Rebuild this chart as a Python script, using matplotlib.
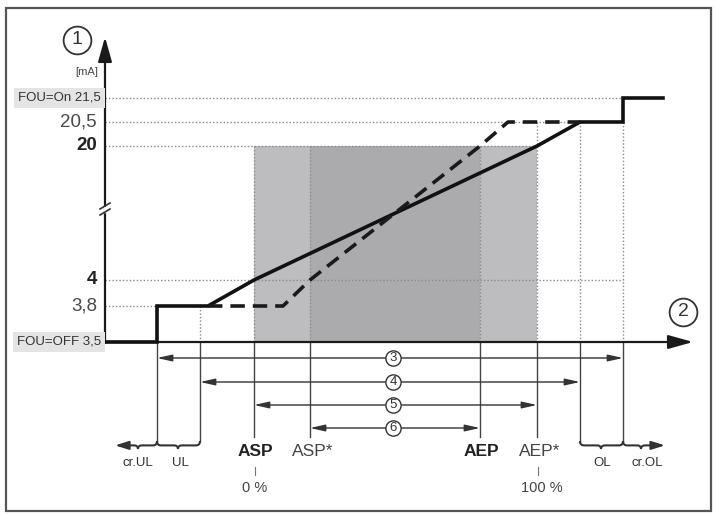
import numpy as np
import matplotlib
matplotlib.use("Agg")
import matplotlib.pyplot as plt
from matplotlib.path import Path
from matplotlib.patches import PathPatch, Rectangle

plt.rcParams['font.family'] = ['Liberation Sans Narrow', 'Liberation Sans', 'DejaVu Sans']

# ---------------- data ----------------
# current levels [mA] shown on the y axis
Y_LEVELS = [3.5, 3.8, 4.0, 20.0, 20.5, 21.5]
Y_LABELS = ["FOU=OFF 3,5", "3,8", "4", "20", "20,5", "FOU=On 21,5"]
Y_BOLD = [False, False, True, True, False, False]

# positions on the measured-value axis
X_CRUL, X_UL, X_ASP, X_ASPS, X_AEP, X_AEPS, X_OL, X_CROL = 157, 200, 254, 310, 480, 537, 580, 623
X_LABELS_TOP = ["ASP", "ASP*", "AEP", "AEP*"]
X_LABELS_TOP_POS = [X_ASP, X_ASPS, X_AEP, X_AEPS]
X_LABELS_TOP_BOLD = [True, False, True, False]
PCT_LABELS = ["0 %", "100 %"]

# characteristic curves
SOLID_X = [105, X_CRUL, X_CRUL, 208, X_ASP, X_AEPS, X_OL, X_CROL, X_CROL, 663]
SOLID_Y = [3.5, 3.5, 3.8, 3.8, 4.0, 20.0, 20.5, 20.5, 21.5, 21.5]
DASHED_X = [208, 283, X_ASPS, X_AEP, 508, X_OL]
DASHED_Y = [3.8, 3.8, 4.0, 20.0, 20.5, 20.5]

# ranges (numbered arrows)
RANGES = [("3", X_CRUL, X_CROL), ("4", X_UL, X_OL), ("5", X_ASP, X_AEPS), ("6", X_ASPS, X_AEP)]

# ---------------- scale (broken y axis) ----------------
W, H = 715, 515
_PX = np.array([342, 306, 280, 146, 122, 98], float)
_L = np.array(Y_LEVELS, float)
_F = 1 - _PX / H


def fwd(v):
    v = np.asarray(v, float)
    out = np.interp(v, _L, _F)
    s0 = (_F[1] - _F[0]) / (_L[1] - _L[0])
    s1 = (_F[-1] - _F[-2]) / (_L[-1] - _L[-2])
    out = np.where(v < _L[0], _F[0] + (v - _L[0]) * s0, out)
    out = np.where(v > _L[-1], _F[-1] + (v - _L[-1]) * s1, out)
    return out


def inv(f):
    f = np.asarray(f, float)
    out = np.interp(f, _F, _L)
    s0 = (_L[1] - _L[0]) / (_F[1] - _F[0])
    s1 = (_L[-1] - _L[-2]) / (_F[-1] - _F[-2])
    out = np.where(f < _F[0], _L[0] + (f - _F[0]) * s0, out)
    out = np.where(f > _F[-1], _L[-1] + (f - _F[-1]) * s1, out)
    return out


def fr(px):
    return 1 - px / H


fig = plt.figure(figsize=(W / 100, H / 100), dpi=100)
ax = fig.add_axes([0, 0, 1, 1])
ax.set_yscale('function', functions=(fwd, inv))
ax.set_xlim(0, W)
ax.set_ylim(float(inv(0.0)), float(inv(1.0)))
ax.axis('off')
T = ax.get_xaxis_transform()

DOT = dict(color='#8a8a8a', lw=1.0, linestyle=(0, (1, 1.5)))
THIN = dict(color='#444444', lw=1.0)

# frame
ax.add_patch(Rectangle((6 / W, fr(511)), 705 / W, (511 - 8) / H, transform=ax.transAxes,
                       fill=False, ec='#555555', lw=1.6, zorder=10))

# shaded areas
ax.fill_between([X_ASP, X_AEPS], 3.5, 20, color='#bdbdbf', lw=0, zorder=1)
ax.fill_between([X_ASPS, X_AEP], 3.5, 20, color='#ababad', lw=0, zorder=1)

# horizontal dotted guide lines
ax.plot([105, X_CROL], [21.5, 21.5], **DOT, zorder=2)
ax.plot([105, X_OL], [20.5, 20.5], **DOT, zorder=2)
ax.plot([105, X_AEPS], [20, 20], **DOT, zorder=2)
ax.plot([105, X_CROL], [4, 4], **DOT, zorder=2)
ax.plot([105, X_CRUL], [3.8, 3.8], **DOT, zorder=2)

# vertical dotted guide lines (above axis)
ax.plot([X_UL, X_UL], [3.8, 3.5], **DOT, zorder=2)
for xv in [X_ASP, X_ASPS, X_AEP]:
    ax.plot([xv, xv], [20, 3.5], **DOT, zorder=2)
for xv in [X_AEPS, X_OL, X_CROL]:
    ax.plot([xv, xv], [20.5, 3.5], **DOT, zorder=2)

# vertical thin lines below the axis
for xv, bot in [(X_CRUL, 441), (X_UL, 441), (X_ASP, 437), (X_ASPS, 437),
                (X_AEP, 437), (X_AEPS, 437), (X_OL, 441), (X_CROL, 441)]:
    ax.plot([xv, xv], [fr(342), fr(bot)], transform=T, **THIN, zorder=2)

# axes arrows
ax.annotate('', xy=(693, fr(342)), xytext=(105, fr(342)), xycoords=T, textcoords=T,
            arrowprops=dict(arrowstyle='-|>,head_length=1.5,head_width=0.42', color='#1a1a1a',
                            lw=1.6, shrinkA=0, shrinkB=0), zorder=3)
ax.annotate('', xy=(105, fr(37)), xytext=(105, fr(343)), xycoords=T, textcoords=T,
            arrowprops=dict(arrowstyle='-|>,head_length=1.5,head_width=0.42', color='#1a1a1a',
                            lw=1.6, shrinkA=0, shrinkB=0), zorder=3)
# axis break marks
for dy in (-3, 3):
    ax.plot([100, 110], [fr(209 + dy + 3), fr(209 + dy - 3)], transform=T, color='#333333', lw=1.2, zorder=4)
ax.plot([105, 105], [fr(207.5), fr(210.5)], transform=T, color='white', lw=2.5, zorder=3.5)

# curves
ax.plot(SOLID_X, SOLID_Y, color='#111111', lw=2.6, solid_joinstyle='miter', zorder=5)
ax.plot(DASHED_X, DASHED_Y, color='#1a1a1a', lw=2.6, dashes=(4, 2.2), zorder=5)

# numbered range arrows
ROW_PX = [358, 382, 405, 428]
for (num, x0, x1), py in zip(RANGES, ROW_PX):
    ax.annotate('', xy=(x1, fr(py)), xytext=(x0, fr(py)), xycoords=T, textcoords=T,
                arrowprops=dict(arrowstyle='<|-|>,head_length=0.9,head_width=0.2', color='#333333',
                                lw=1.0, shrinkA=0, shrinkB=0), zorder=3)
    ax.plot([393], [fr(py)], transform=T, marker='o', ms=11, mfc='white', mec='#333333', mew=1.0, zorder=6)
    ax.text(393, fr(py), num, transform=T, ha='center', va='center', fontsize=9.5, color='#333333', zorder=7)

# big circled labels
for (cx, cy, num) in [(77, 40, "1"), (683, 312, "2")]:
    ax.plot([cx], [fr(cy)], transform=T, marker='o', ms=20, mfc='white', mec='#333333', mew=1.3, zorder=6)
    ax.text(cx, fr(cy), num, transform=T, ha='center', va='center', fontsize=14, color='#333333', zorder=7)


# braces
def brace(x0, x1, ytop, depth=8, left_arrow=False, right_arrow=False, tip=None):
    yt, ym, yb = fr(ytop), fr(ytop + depth * 0.55), fr(ytop + depth)
    d = 4
    xm = (x0 + x1) / 2 if tip is None else tip
    verts, codes = [], []
    if left_arrow:
        verts += [(x0, ym)]; codes += [Path.MOVETO]
    else:
        verts += [(x0, yt), (x0, ym), (x0 + d, ym)]; codes += [Path.MOVETO, Path.CURVE3, Path.CURVE3]
    verts += [(xm - d, ym), (xm, ym), (xm, yb), (xm, ym), (xm + d, ym)]
    codes += [Path.LINETO, Path.CURVE3, Path.CURVE3, Path.CURVE3, Path.CURVE3]
    if right_arrow:
        verts += [(x1, ym)]; codes += [Path.LINETO]
    else:
        verts += [(x1 - d, ym), (x1, ym), (x1, yt)]; codes += [Path.LINETO, Path.CURVE3, Path.CURVE3]
    ax.add_patch(PathPatch(Path(verts, codes), transform=T, fill=False, ec='#333333', lw=1.5, zorder=4))
    if left_arrow:
        ax.annotate('', xy=(x0 - 6, ym), xytext=(x0 + 2, ym), xycoords=T, textcoords=T,
                    arrowprops=dict(arrowstyle='-|>,head_length=0.8,head_width=0.25', color='#333333',
                                    lw=1.5, shrinkA=0, shrinkB=0))
    if right_arrow:
        ax.annotate('', xy=(x1 + 6, ym), xytext=(x1 - 2, ym), xycoords=T, textcoords=T,
                    arrowprops=dict(arrowstyle='-|>,head_length=0.8,head_width=0.25', color='#333333',
                                    lw=1.5, shrinkA=0, shrinkB=0))


brace(X_CRUL, X_UL, 441, tip=178)
brace(121, X_CRUL, 441, left_arrow=True, tip=138)
brace(X_OL, X_CROL, 441, tip=601)
brace(X_CROL, 659, 441, right_arrow=True, tip=641)

# small range labels
for txt, xv in [("cr.UL", 138), ("UL", 180), ("OL", 602), ("cr.OL", 647)]:
    ax.text(xv, fr(463), txt, transform=T, ha='center', va='center', fontsize=9.5, color='#333333')

# ASP / AEP labels
for txt, xv, b in zip(X_LABELS_TOP, X_LABELS_TOP_POS, X_LABELS_TOP_BOLD):
    ax.text(xv + (3 if '*' in txt else 1), fr(452), txt, transform=T, ha='center', va='center', fontsize=12.5,
            fontweight='bold' if b else 'normal', color='#222222' if b else '#444444')
for txt, xv in zip(PCT_LABELS, [X_ASP, X_AEPS]):
    ax.plot([xv + 1, xv + 1], [fr(467), fr(475)], transform=T, color='#777777', lw=0.8)
    ax.text(xv + (1 if txt == "0 %" else 5), fr(488), txt, transform=T, ha='center', va='center',
            fontsize=10.5, color='#444444')

# y-axis labels
ax.text(98, fr(72), "[mA]", transform=T, ha='right', va='center', fontsize=8, color='#444444')
for lvl, lab, b in zip(Y_LEVELS, Y_LABELS, Y_BOLD):
    if lab.startswith("FOU"):
        ax.text(101, lvl, lab, ha='right', va='center', fontsize=9.5, color='#333333',
                bbox=dict(boxstyle='square,pad=0.3', fc='#e4e4e4', ec='none'), zorder=6)
    else:
        ax.text(97, lvl, lab, ha='right', va='center', fontsize=13.5,
                fontweight='bold' if b else 'normal', color='#222222' if b else '#4a4a4a')

fig.savefig("out.png", dpi=100)
